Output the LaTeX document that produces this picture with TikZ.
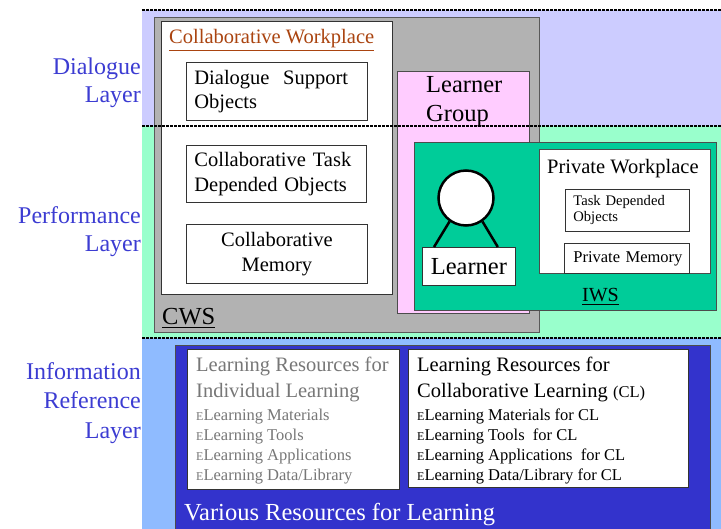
\documentclass[tikz,border=0pt]{standalone}
\usepackage{fontspec}
\setmainfont{Liberation Serif}
\usepackage{xcolor}
\usetikzlibrary{calc}

\definecolor{dialoguebg}{HTML}{CCCCFF}
\definecolor{performbg}{HTML}{99FFCC}
\definecolor{inforbg}{HTML}{8FBBFF}
\definecolor{cwsgray}{HTML}{B2B2B2}
\definecolor{grouppink}{HTML}{FFCCFF}
\definecolor{iwsgreen}{HTML}{00CC99}
\definecolor{resblue}{HTML}{3333CC}
\definecolor{labelblue}{HTML}{3C3CD2}
\definecolor{titlebrown}{HTML}{AA4410}
\definecolor{indgray}{HTML}{777777}

\tikzset{
    layerline/.style={line width=2.5pt, dash pattern=on 2.5pt off 1.5pt},
    layerlabel/.style={text=labelblue, inner sep=0pt, align=right, anchor=base east},
    box/.style={draw=black!80, fill=white, line width=0.8pt, inner sep=0pt, anchor=north west},
    txt/.style={inner sep=0pt, anchor=base west},
}
\newcommand{\smallE}{{\fontsize{12}{12}\selectfont E}}

\begin{document}
\begin{tikzpicture}[x=1pt, y=-1pt]
    \useasboundingbox (0,0) rectangle (721,529);

    % Layer bands
    \fill[dialoguebg] (142,10) rectangle (721,126);
    \fill[performbg] (142,126) rectangle (721,338);
    \fill[inforbg] (142,338) rectangle (721,529);

    % Layer labels (placed at the baseline of the last line)
    \node[layerlabel, font=\fontsize{24}{28}\selectfont] (dlabel) at (141,103) {Dialogue\\Layer};
    \node[layerlabel, font=\fontsize{24}{28}\selectfont] (plabel) at (141,252) {Performance\\Layer};
    \node[layerlabel, font=\fontsize{24}{30}\selectfont] (ilabel) at (141,439) {Information\\Reference\hspace{8pt}\\Layer};

    % CWS
    \filldraw[fill=cwsgray, draw=black!65, line width=0.8pt] (154,17) rectangle (539,332);
    \filldraw[fill=white, draw=black!80, line width=0.8pt] (161,21) rectangle (392,294);
    \node[txt, text=titlebrown, font=\fontsize{20.5}{24}\selectfont] (cwtitle) at (169,44)
        {\underline{Collaborative Workplace}};
    \node[box, minimum width=181, minimum height=58, text width=165, align=left,
        font=\fontsize{20.5}{24}\selectfont] (dso) at (186,62) {Dialogue\ \ Support\\Objects};
    \node[box, minimum width=180, minimum height=57, text width=164, align=left,
        font=\fontsize{20.5}{25}\selectfont] (ctdo) at (186,145) {Collaborative Task\\Depended Objects};
    \node[box, minimum width=181, minimum height=59, text width=165, align=center,
        font=\fontsize{20.5}{25}\selectfont] (cm) at (186,224) {Collaborative\\Memory};
    \node[txt, font=\fontsize{24.5}{28}\selectfont] (cws) at (162,325) {\underline{CWS}};

    % Learner group
    \filldraw[fill=grouppink, draw=black!70, line width=0.8pt] (397,71) rectangle (529,313);
    \node[txt, align=left, font=\fontsize{24.5}{29}\selectfont] (lgroup) at (426,122) {Learner\\Group};

    % IWS
    \filldraw[fill=iwsgreen, draw=black!70, line width=0.8pt] (414,142) rectangle (716,310);
    \filldraw[fill=white, draw=black!70, line width=0.8pt] (539,149) rectangle (710,273);
    \node[txt, font=\fontsize{20.5}{24}\selectfont] (pwtitle) at (547,174) {Private Workplace};
    \node[box, minimum width=124, minimum height=42, text width=108, align=left,
        font=\fontsize{14.6}{16}\selectfont] (tdo) at (565,189) {Task Depended\\Objects};
    \node[box, minimum width=125, minimum height=30, text width=107, align=left,
        font=\fontsize{16.5}{19}\selectfont] (pm) at (564,243) {\mbox{Private Memory}};
    \node[txt, font=\fontsize{20}{24}\selectfont] (iws) at (582,302) {\underline{IWS}};

    % Learner
    \node[circle, draw, fill=white, line width=2.5pt, minimum size=55, inner sep=0pt] (head) at (466,198) {};
    \node[box, minimum width=93, minimum height=38, font=\fontsize{24.5}{28}\selectfont] (learner) at (422,247) {Learner};
    \draw[line width=2.5pt] (head.235) -- ($(learner.north west)+(12,0)$);
    \draw[line width=2.5pt] (head.305) -- ($(learner.north east)+(-18,0)$);

    % Various resources
    \filldraw[fill=resblue, draw=black!70, line width=0.8pt] (175,345) rectangle (710,535);
    \filldraw[fill=white, draw=black!80, line width=0.8pt] (187,349) rectangle (399,489);
    \filldraw[fill=white, draw=black!80, line width=0.8pt] (408,349) rectangle (688,487);
    \node[txt, align=left, text=indgray, font=\fontsize{20.5}{26}\selectfont] (indhead) at (196,398)
        {Learning Resources for\\Individual Learning};
    \node[txt, align=left, text=indgray, font=\fontsize{16.5}{20}\selectfont] (inditems) at (196,481)
        {\smallE Learning Materials\\\smallE Learning Tools\\\smallE Learning Applications\\\smallE Learning Data/Library};
    \node[txt, align=left, font=\fontsize{20.5}{26}\selectfont] (colhead) at (417,398)
        {Learning Resources for\\Collaborative Learning {\fontsize{16.5}{20}\selectfont (CL)}};
    \node[txt, align=left, font=\fontsize{16.5}{20}\selectfont] (colitems) at (417,481)
        {\smallE Learning Materials for CL\\\smallE Learning Tools\ \ for CL\\\smallE Learning Applications\ \ for CL\\\smallE Learning Data/Library for CL};
    \node[txt, text=white, font=\fontsize{24.5}{28}\selectfont] (various) at (184,521) {Various Resources for Learning};

    % Layer borders
    \draw[layerline] (142,10) -- (721,10);
    \draw[layerline] (142,126) -- (721,126);
    \draw[layerline] (142,338) -- (721,338);

\end{tikzpicture}
\end{document}
